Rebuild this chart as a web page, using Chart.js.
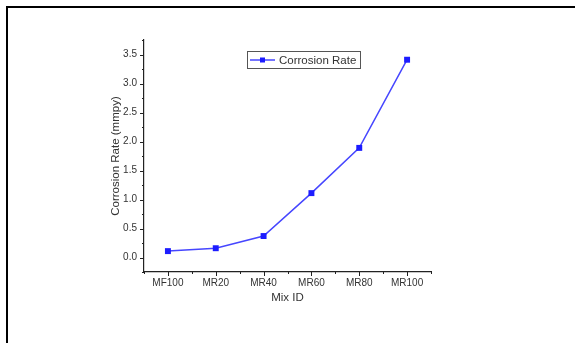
<!DOCTYPE html>
<html lang="en">
<head>
    <meta charset="UTF-8">
    <title>Corrosion Rate</title>
    <script src="https://cdn.jsdelivr.net/npm/chart.js"></script>
    <style>
        body { margin: 0; background: #fff; }
        #wrap { position: relative; width: 575px; height: 343px; overflow: hidden; }
        #frame {
            position: absolute; left: 6px; top: 6px; right: -10px; bottom: -10px;
            border-left: 2px solid #000; border-top: 2px solid #000;
        }
        canvas { position: absolute; left: 0; top: 0; }
    </style>
</head>
<body>
<div id="wrap">
    <canvas id="myChart" width="575" height="343"></canvas>
    <div id="frame"></div>
</div>

<script>
    var mixIds = ['MF100', 'MR20', 'MR40', 'MR60', 'MR80', 'MR100'];
    var corrosionRate = [0.11, 0.16, 0.37, 1.11, 1.89, 3.41];
    var seriesName = 'Corrosion Rate';

    var lineColor = '#4646ff';
    var markerColor = '#1c1cff';
    var textColor = '#333';
    var fontFamily = '"Liberation Sans", Arial, sans-serif';

    function isMajor(v) {
        return Math.abs(v * 2 - Math.round(v * 2)) < 1e-6;
    }

    // outward ticks, long on whole steps and short in between
    var tickMarks = {
        id: 'tickMarks',
        afterDraw: function(chart) {
            var ctx = chart.ctx;
            var xs = chart.scales.x, ys = chart.scales.y;
            ctx.save();
            ctx.strokeStyle = '#222';
            ctx.lineWidth = 1;
            ctx.beginPath();
            xs.ticks.forEach(function(t) {
                var px = Math.round(xs.getPixelForValue(t.value)) + 0.5;
                var len = Number.isInteger(Math.round(t.value * 1e6) / 1e6) ? 4 : 2;
                ctx.moveTo(px, xs.top);
                ctx.lineTo(px, xs.top + len);
            });
            ys.ticks.forEach(function(t) {
                var py = Math.round(ys.getPixelForValue(t.value)) + 0.5;
                var len = isMajor(t.value) ? 4 : 2;
                ctx.moveTo(ys.right, py);
                ctx.lineTo(ys.right - len, py);
            });
            ctx.stroke();
            ctx.restore();
        }
    };

    // boxed legend inside the plot, like the Origin one
    var boxLegend = {
        id: 'boxLegend',
        afterDraw: function(chart) {
            var ctx = chart.ctx;
            var ds = chart.data.datasets[0];
            var x = 247, y = 51, w = 113, h = 17;
            var cy = y + h / 2;
            ctx.save();
            ctx.strokeStyle = '#555';
            ctx.lineWidth = 1;
            ctx.strokeRect(x + 0.5, y + 0.5, w, h);
            ctx.strokeStyle = ds.borderColor;
            ctx.lineWidth = ds.borderWidth;
            ctx.beginPath();
            ctx.moveTo(x + 3, cy + 0.5);
            ctx.lineTo(x + 28, cy + 0.5);
            ctx.stroke();
            ctx.fillStyle = ds.pointBackgroundColor;
            ctx.fillRect(x + 13, cy - 2, 5, 5);
            ctx.fillStyle = textColor;
            ctx.font = '11.5px ' + fontFamily;
            ctx.textBaseline = 'middle';
            ctx.fillText(ds.label, x + 32, cy + 1);
            ctx.restore();
        }
    };

    var points = corrosionRate.map(function(v, i) { return { x: i, y: v }; });

    var ctx = document.getElementById('myChart').getContext('2d');
    var myChart = new Chart(ctx, {
        type: 'line',
        data: {
            datasets: [{
                label: seriesName,
                data: points,
                borderColor: lineColor,
                borderWidth: 1.5,
                pointStyle: 'rect',
                pointRadius: 4.2,
                pointBackgroundColor: markerColor,
                pointBorderColor: markerColor,
                pointBorderWidth: 0,
                tension: 0
            }]
        },
        options: {
            responsive: false,
            animation: false,
            devicePixelRatio: 1,
            layout: {
                padding: { left: 100, right: 144, top: 40, bottom: 20 }
            },
            plugins: {
                legend: { display: false },
                tooltip: { enabled: false }
            },
            scales: {
                x: {
                    type: 'linear',
                    min: -0.5,
                    max: 5.5,
                    grid: { display: false, drawTicks: false },
                    border: { display: true, color: '#222', width: 1.2 },
                    ticks: {
                        stepSize: 0.5,
                        autoSkip: false,
                        maxRotation: 0,
                        padding: 5,
                        color: textColor,
                        font: { family: fontFamily, size: 10 },
                        callback: function(v) {
                            var i = Math.round(v * 1e6) / 1e6;
                            return Number.isInteger(i) && mixIds[i] ? mixIds[i] : '';
                        }
                    },
                    title: {
                        display: true,
                        text: 'Mix ID',
                        color: textColor,
                        font: { family: fontFamily, size: 11.5 },
                        padding: { top: 0, bottom: 18 }
                    },
                    afterFit: function(scale) { scale.height = 51; }
                },
                y: {
                    min: -0.25,
                    max: 3.75,
                    grid: { display: false, drawTicks: false },
                    border: { display: true, color: '#222', width: 1.2 },
                    ticks: {
                        stepSize: 0.25,
                        autoSkip: false,
                        padding: 7,
                        color: textColor,
                        font: { family: fontFamily, size: 10 },
                        callback: function(v) {
                            return isMajor(v) ? (Math.round(v * 2) / 2).toFixed(1) : '';
                        }
                    },
                    title: {
                        display: true,
                        text: 'Corrosion Rate (mmpy)',
                        color: textColor,
                        font: { family: fontFamily, size: 11.5 },
                        padding: { top: 9, bottom: 0 }
                    },
                    afterFit: function(scale) { scale.width = 44; }
                }
            }
        },
        plugins: [tickMarks, boxLegend]
    });
</script>
</body>
</html>
